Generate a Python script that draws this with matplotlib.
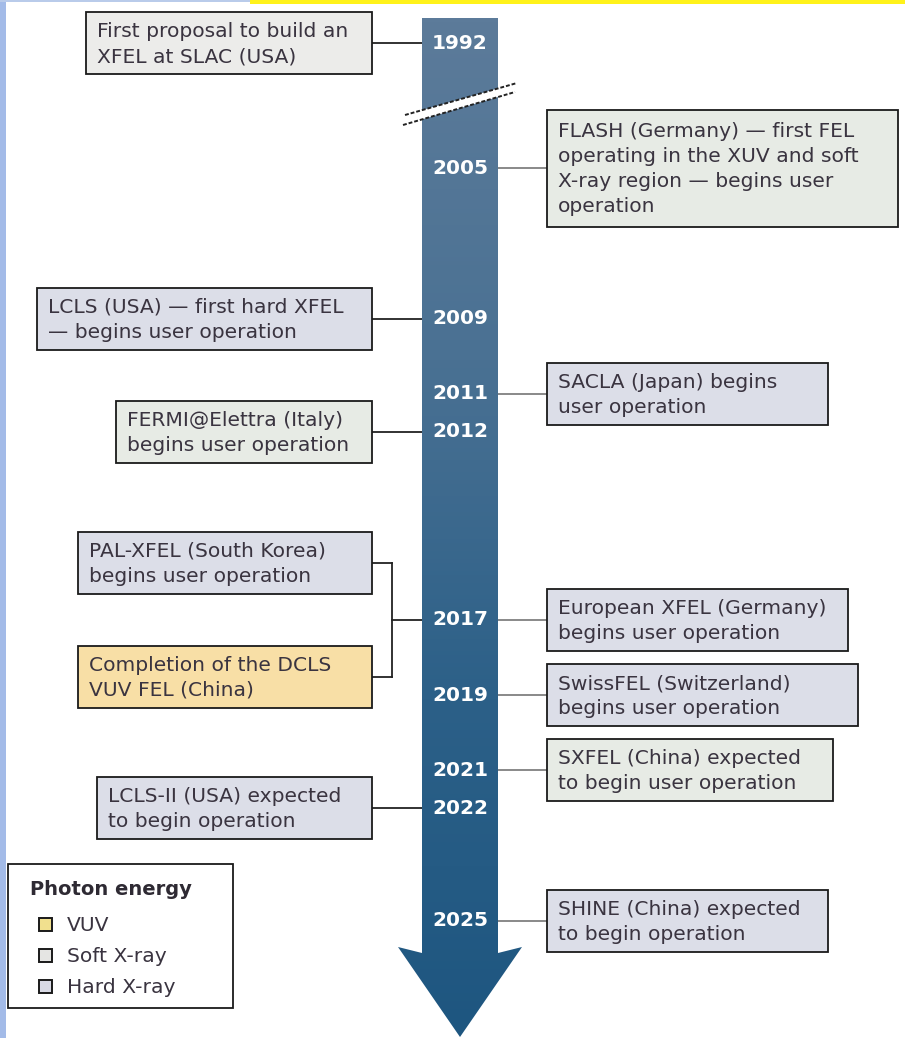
import numpy as np
import matplotlib.pyplot as plt
from matplotlib.patches import Rectangle, Polygon
from matplotlib.colors import LinearSegmentedColormap

plt.rcParams['font.family'] = ['DejaVu Sans']

# timeline data
years = [1992, 2005, 2009, 2011, 2012, 2017, 2019, 2021, 2022, 2025]

event_year = [1992, 2005, 2009, 2011, 2012, 2017, 2017, 2017, 2019, 2021, 2022, 2025]
event_text = [
    "First proposal to build an\nXFEL at SLAC (USA)",
    "FLASH (Germany) — first FEL\noperating in the XUV and soft\nX-ray region — begins user\noperation",
    "LCLS (USA) — first hard XFEL\n— begins user operation",
    "SACLA (Japan) begins\nuser operation",
    "FERMI@Elettra (Italy)\nbegins user operation",
    "PAL-XFEL (South Korea)\nbegins user operation",
    "Completion of the DCLS\nVUV FEL (China)",
    "European XFEL (Germany)\nbegins user operation",
    "SwissFEL (Switzerland)\nbegins user operation",
    "SXFEL (China) expected\nto begin user operation",
    "LCLS-II (USA) expected\nto begin operation",
    "SHINE (China) expected\nto begin operation",
]
event_energy = ['none', 'soft', 'hard', 'hard', 'soft', 'hard', 'vuv',
                'hard', 'hard', 'soft', 'hard', 'hard']

legend_labels = ['VUV', 'Soft X-ray', 'Hard X-ray']
legend_keys = ['vuv', 'soft', 'hard']

# layout (pixels)
side = ['L', 'R', 'L', 'R', 'L', 'L', 'L', 'R', 'R', 'R', 'L', 'R']
box_w = [286, 351, 335, 281, 256, 294, 294, 301, 311, 286, 275, 281]
box_shift = [0, 0, 0, 0, 0, -57, 57, 0, 0, 0, 0, 0]

fill = {'none': '#ececea', 'soft': '#e7ebe5', 'hard': '#dcdee8', 'vuv': '#f8dfa6'}
key_fill = {'vuv': '#f1e08e', 'soft': '#e5e5e3', 'hard': '#d8d9e4'}
txt_col = '#3a3440'
FS = 14.6

PXY = 37.65          # pixels per year below the break
BREAK = 9.68         # years removed by the axis break


def ypos(year):
    return year if year >= 2005 else year + BREAK


def py(px):
    # pixel row -> axis value
    return 2005 + (px - 168) / PXY


def dpx(px):
    return px / PXY


fig = plt.figure(figsize=(9.05, 10.38), dpi=100)
ax = fig.add_axes([0, 0, 1, 1])
ax.set_xlim(0, 905)
ax.set_ylim(py(1038), py(0))
ax.axis('off')

# arrow with gradient
SL, SR, XC = 422, 498, 460
arrow = Polygon([(SL, py(18)), (SR, py(18)), (SR, py(953)), (522, py(947)),
                 (XC, py(1037)), (398, py(947)), (SL, py(953))],
                closed=True, facecolor='none', edgecolor='none')
ax.add_patch(arrow)
cmap = LinearSegmentedColormap.from_list('arr', ['#5c7b9a', '#4a7193', '#2c6088', '#1e5680'])
grad = np.linspace(0, 1, 256).reshape(-1, 1)
im = ax.imshow(grad, cmap=cmap, extent=[398, 522, py(1037), py(18)],
               origin='upper', aspect='auto', zorder=2)
im.set_clip_path(arrow)

# axis break
ax.add_patch(Polygon([(405, py(115)), (517, py(83)), (515, py(92)), (403, py(125))],
                     closed=True, facecolor='white', edgecolor='none', zorder=3))
ax.plot([405, 517], [py(115), py(83)], color='#222222', lw=1.4, ls=(0, (2, 1)), zorder=4)
ax.plot([403, 515], [py(125), py(92)], color='#222222', lw=1.4, ls=(0, (2, 1)), zorder=4)

# year labels
for yr in years:
    ax.text(XC, ypos(yr), str(yr), color='white', fontsize=14.5, fontweight='bold',
            ha='center', va='center', zorder=5)

# event boxes
for i, yr in enumerate(event_year):
    lines = event_text[i].split('\n')
    n = len(lines)
    h = n * 25 + 12 if n < 4 else 117
    yc = ypos(yr) + dpx(box_shift[i])
    if side[i] == 'L':
        x0 = 372 - box_w[i]
    else:
        x0 = 547
    ax.add_patch(Rectangle((x0, yc - dpx(h / 2)), box_w[i], dpx(h),
                           facecolor=fill[event_energy[i]], edgecolor='#1a1a1a',
                           lw=1.3, zorder=3))
    for j, ln in enumerate(lines):
        yl = yc + dpx((j - (n - 1) / 2) * 25 + 6.5)
        ax.text(x0 + 11, yl, ln, fontsize=FS, color=txt_col, ha='left',
                va='baseline', zorder=4)
    # connectors
    if side[i] == 'L' and box_shift[i] == 0:
        ax.plot([372, SL], [yc, yc], color='#222222', lw=1.3, zorder=1)
    elif side[i] == 'L':
        ax.plot([372, 392], [yc, yc], color='#222222', lw=1.3, zorder=1)
    else:
        ax.plot([SR, 547], [yc, yc], color='#808080', lw=1.3, zorder=1)

# bracket for the two 2017 boxes
y17 = ypos(2017)
ax.plot([392, 392], [y17 - dpx(57), y17 + dpx(57)], color='#222222', lw=1.3, zorder=1)
ax.plot([392, SL], [y17, y17], color='#222222', lw=1.3, zorder=1)

# legend
ax.add_patch(Rectangle((8, py(864)), 225, dpx(144), facecolor='white',
                       edgecolor='#1a1a1a', lw=1.3, zorder=3))
ax.text(30, py(895), 'Photon energy', fontsize=14, fontweight='bold', color='#2e2a33',
        ha='left', va='baseline', zorder=4)
for k, (lab, key) in enumerate(zip(legend_labels, legend_keys)):
    yc = py(924 + k * 31)
    ax.add_patch(Rectangle((39, yc - dpx(6.5)), 13, dpx(13), facecolor=key_fill[key],
                           edgecolor='#1a1a1a', lw=1.4, zorder=4))
    ax.text(67, yc + dpx(7), lab, fontsize=FS, color=txt_col, ha='left',
            va='baseline', zorder=4)

# page edges from the screenshot
ax.add_patch(Rectangle((0, py(0)), 6, dpx(1038), facecolor='#a3bbe8',
                       edgecolor='none', zorder=6))
ax.add_patch(Rectangle((0, py(0)), 250, dpx(2), facecolor='#b9cbea',
                       edgecolor='none', zorder=6))
ax.add_patch(Rectangle((250, py(0)), 655, dpx(4), facecolor='#fff21a',
                       edgecolor='none', zorder=6))

fig.savefig('out.png', dpi=100)
